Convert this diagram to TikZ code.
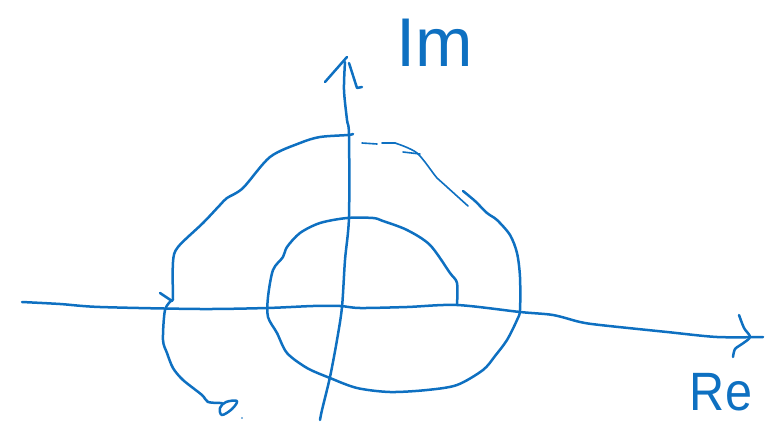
\documentclass[tikz,border=0pt]{standalone}
\usepackage{fontspec}
\setmainfont{Liberation Sans}
\definecolor{ink}{RGB}{14,112,193}
\begin{document}
\begin{tikzpicture}[x=1pt,y=-1pt,
  pen/.style={draw=ink,line width=2.5pt,line cap=round,line join=round},
  thinpen/.style={draw=ink,line width=1.6pt,line cap=round,line join=round},
  lbl/.style={text=ink,inner sep=0pt}]
\useasboundingbox (0,0) rectangle (779,422);
% real axis
\draw[pen] plot[smooth,tension=0.5] coordinates {(22,302) (60,304) (100,307) (200,309) (267,308) (313,306) (340,306) (360,308) (407,307) (457,305) (520,312) (553,315) (580,322) (600,325) (667,332) (717,337) (763,337)};
\draw[pen] plot[smooth,tension=0.5] coordinates {(739,315) (744,328) (750,337) (742,344) (735,349) (733,357)};
% imaginary axis
\draw[pen] plot[smooth,tension=0.5] coordinates {(320,420) (322,410) (330,377) (337,340) (342,307) (345,260) (349,217) (349,135) (347,120) (344,90) (345,62)};
\draw[pen] (325,82) -- (347,57);
\draw[pen] (349,63) -- (357,88) -- (362,87);
% outer contour, upper left
\draw[pen] plot[smooth,tension=0.5] coordinates {(173,300) (173,262) (178,247) (203,223) (220,205) (227,198) (243,188) (270,157) (300,143) (320,137) (348,135) (353,134)};
\draw[pen] (160,293) -- (172,301);
% dashed top
\draw[thinpen] (362,143) -- (377,144);
\draw[thinpen] (382,143) -- (395,143);
\draw[thinpen] (403,152) -- (420,154);
\draw[thinpen] plot[smooth,tension=0.5] coordinates {(395,143) (417,153) (437,178) (447,187) (468,206)};
% outer right and bottom, inner circle
\draw[pen] plot[smooth,tension=0.5] coordinates {(463,191) (475,201) (487,213) (497,220) (510,235) (517,253) (520,277) (520,310) (517,320) (507,340) (495,356) (483,370) (457,385) (427,390) (390,392) (357,388) (330,378) (307,368) (287,353) (277,333) (268,317) (268,297) (273,270) (283,257) (287,247) (300,233) (320,223) (347,218) (373,218) (383,221) (407,230) (430,245) (450,273) (457,283) (457,305)};
% lower left tail
\draw[pen] plot[smooth,tension=0.5] coordinates {(172,300) (165,310) (163,340) (167,353) (173,368) (183,380) (202,395) (208,402) (222,403)};
\draw[pen] plot[smooth cycle,tension=0.6] coordinates {(226,402) (237,401) (232,409) (222,415) (220,408)};
\fill[ink] (242,418) circle (0.8pt);
% labels
\node[lbl,font=\fontsize{46}{46}\selectfont] (im) at (435,43) {\scalebox{1.5}[1.5]{Im}};
\node[lbl,font=\fontsize{54}{54}\selectfont] (re) at (721,392) {\scalebox{0.9}[1]{Re}};
\end{tikzpicture}
\end{document}
